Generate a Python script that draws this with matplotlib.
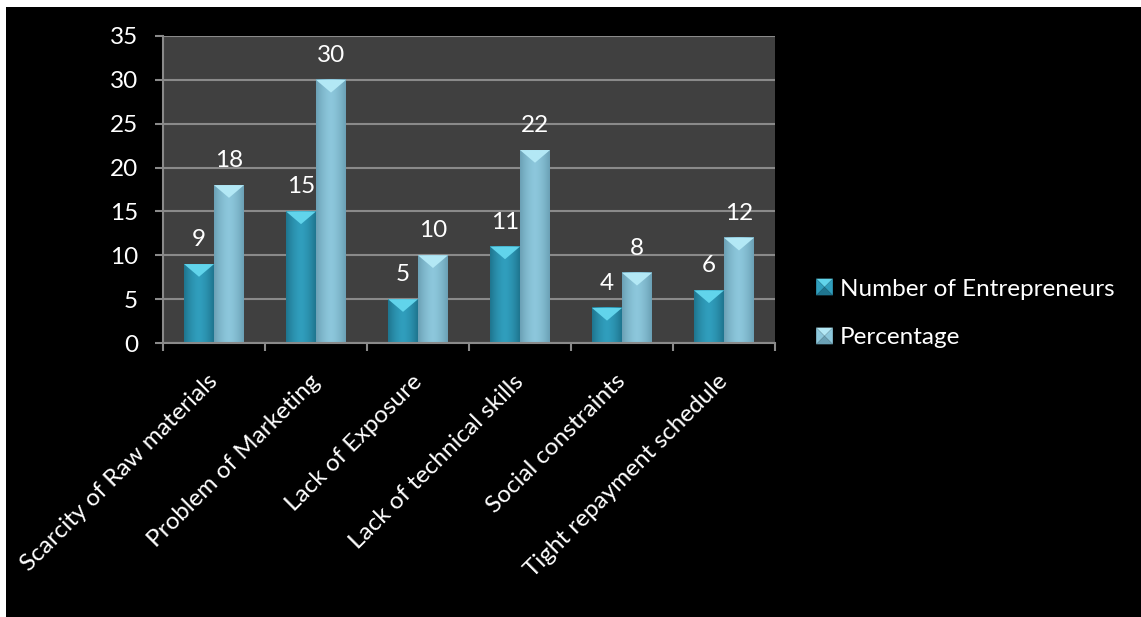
import numpy as np
import matplotlib.pyplot as plt
from matplotlib.patches import Rectangle, Polygon, Patch
from matplotlib.legend_handler import HandlerBase
from matplotlib.transforms import ScaledTranslation

categories = ['Scarcity of Raw materials', 'Problem of Marketing', 'Lack of Exposure',
              'Lack of technical skills', 'Social constraints', 'Tight repayment schedule']
entrepreneurs = [9, 15, 5, 11, 4, 6]
percentage = [18, 30, 10, 22, 8, 12]
series_names = ['Number of Entrepreneurs', 'Percentage']
y_ticks = [0, 5, 10, 15, 20, 25, 30, 35]

FONT = 'Lato'
TXT = 17.5
plt.rcParams['font.family'] = [FONT, 'DejaVu Sans']

# (edge colour, middle colour, bevel colour) per series
styles = [
    ((0.12, 0.46, 0.56), (0.19, 0.62, 0.74), (0.38, 0.83, 0.92)),
    ((0.42, 0.63, 0.71), (0.55, 0.78, 0.86), (0.70, 0.91, 0.96)),
]


def bar_gradient(edge, mid, n=64):
    t = np.linspace(0, 1, n)
    w = 1 - np.abs(2 * t - 1) ** 1.6
    e, m = np.array(edge), np.array(mid)
    row = e[None, :] + (m - e)[None, :] * w[:, None]
    return row[None, :, :]


class PyramidHandler(HandlerBase):
    def create_artists(self, legend, orig_handle, xdescent, ydescent,
                       width, height, fontsize, trans):
        edge, mid, bevel = orig_handle.style
        s = height
        x0, y0 = -xdescent, -ydescent
        cx, cy = x0 + s / 2, y0 + s / 2
        corners = [(x0, y0), (x0 + s, y0), (x0 + s, y0 + s), (x0, y0 + s)]
        shades = [edge, mid, bevel, mid]
        arts = []
        for k in range(4):
            p = Polygon([corners[k], corners[(k + 1) % 4], (cx, cy)],
                        closed=True, facecolor=shades[k], edgecolor='none', transform=trans)
            arts.append(p)
        return arts


fig = plt.figure(figsize=(11.41, 6.17), dpi=100, facecolor='white')
fig.add_artist(Rectangle((6 / 1141, 0), 1, 1 - 7 / 617, transform=fig.transFigure,
                         facecolor='black', edgecolor='none', zorder=-10))

ax = fig.add_axes([163 / 1141, 1 - 343 / 617, 612 / 1141, 307 / 617])
ax.set_facecolor('#404040')

x = np.arange(len(categories))
width = 0.294
bevel_depth = 1.45

for s, (vals, st) in enumerate(zip([entrepreneurs, percentage], styles)):
    edge, mid, bevel = st
    offs = (s - 0.5) * width
    bars = ax.bar(x + offs, vals, width, color=mid, zorder=2)
    grad = bar_gradient(edge, mid)
    for b, v in zip(bars, vals):
        x0 = b.get_x()
        x1 = x0 + b.get_width()
        ax.imshow(grad, extent=(x0, x1, 0, v), aspect='auto', zorder=3,
                  interpolation='bilinear')
        ax.add_patch(Polygon([(x0, v), (x1, v), ((x0 + x1) / 2, v - bevel_depth)],
                             closed=True, facecolor=bevel, edgecolor='none', zorder=4))
        ax.text((x0 + x1) / 2, v + 2.05, str(v), ha='center', va='baseline',
                color='white', fontsize=TXT, zorder=5)

ax.set_xlim(-0.5, len(categories) - 0.5)
ax.set_ylim(0, 35)
ax.set_yticks(y_ticks)
ax.grid(axis='y', color='#8a8a8a', linewidth=1.5, zorder=1)
ax.set_axisbelow(True)

for side in ['top', 'right']:
    ax.spines[side].set_visible(False)
for side in ['left', 'bottom']:
    ax.spines[side].set_color('#8a8a8a')
    ax.spines[side].set_linewidth(1.5)
    ax.spines[side].set_zorder(6)

ax.tick_params(axis='y', colors='#8a8a8a', labelcolor='white', labelsize=TXT,
               length=6, width=1.5, pad=12)
ax.set_xticks(x)
ax.set_xticklabels(categories, rotation=45, ha='right', va='top', rotation_mode='anchor',
                   color='white', fontsize=TXT)
ax.tick_params(axis='x', which='major', length=0, pad=20)
shift = ScaledTranslation(-5 / 72, 0, fig.dpi_scale_trans)
for lab in ax.get_xticklabels():
    lab.set_transform(lab.get_transform() + shift)
ax.set_xticks(np.arange(-0.5, len(categories)), minor=True)
ax.tick_params(axis='x', which='minor', colors='#8a8a8a', length=6, width=1.5)

handles = []
for name, st in zip(series_names, styles):
    h = Patch(label=name)
    h.style = st
    handles.append(h)
fig.legend(handles=handles, loc='center left', bbox_to_anchor=(804 / 1141, 1 - 313.5 / 617),
           frameon=False, labelcolor='white', fontsize=TXT, handlelength=0.68,
           handleheight=0.68, handletextpad=0.3, labelspacing=1.15, borderpad=0,
           handler_map={Patch: PyramidHandler()})

fig.savefig('out.png', dpi=100, facecolor='white')
